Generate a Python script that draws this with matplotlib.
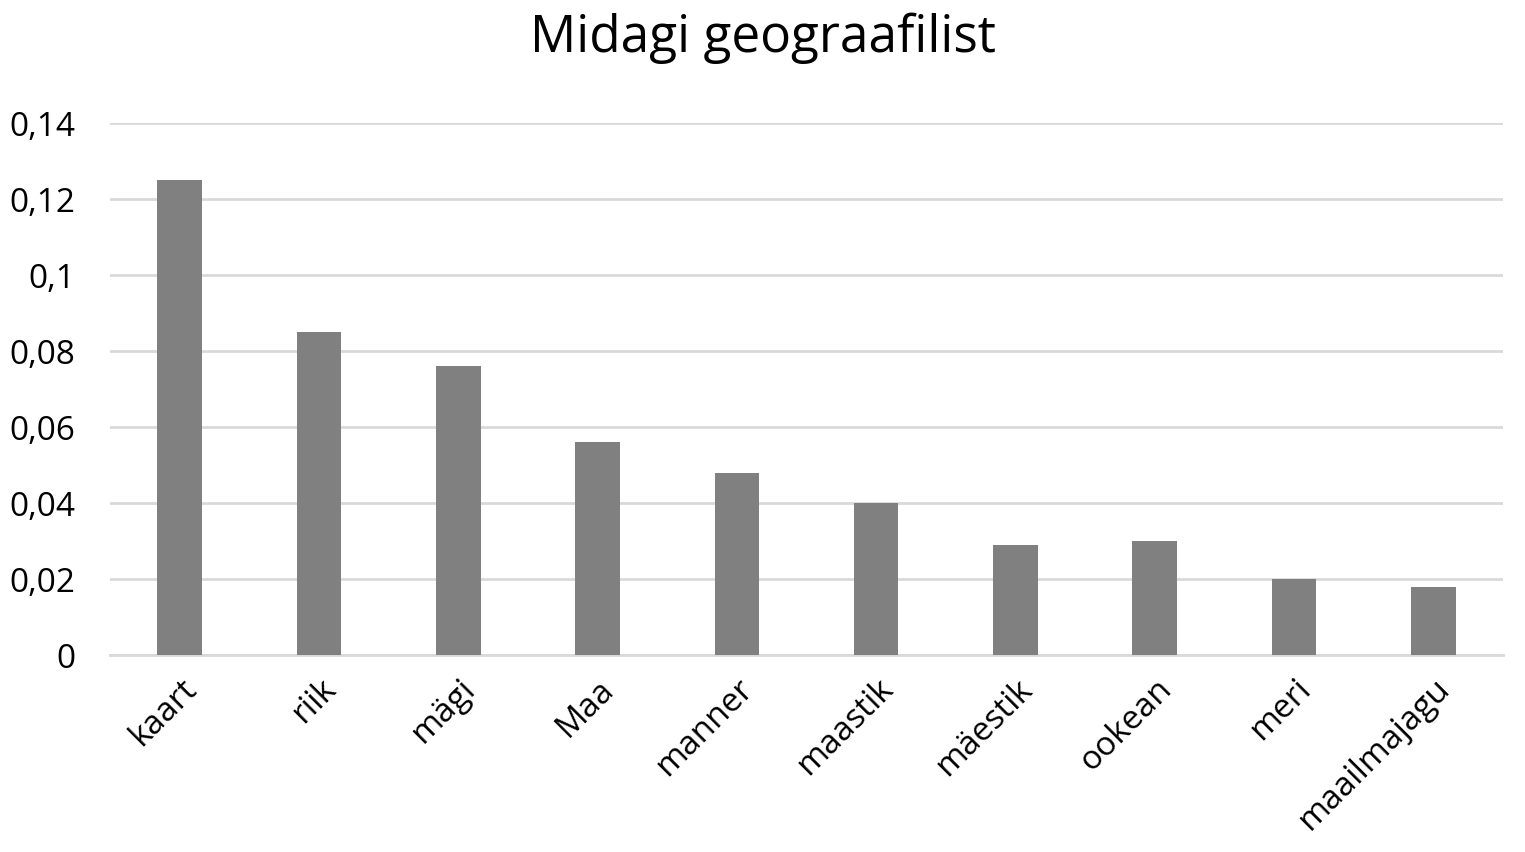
import numpy as np
import matplotlib
matplotlib.use("Agg")
from matplotlib import pyplot as plt

# data
categories = ['kaart', 'riik', 'mägi', 'Maa', 'manner', 'maastik',
              'mäestik', 'ookean', 'meri', 'maailmajagu']
values = [0.125, 0.085, 0.076, 0.056, 0.048, 0.040, 0.029, 0.030, 0.020, 0.018]
yticks = [0, 0.02, 0.04, 0.06, 0.08, 0.1, 0.12, 0.14]
ytick_labels = ['0', '0,02', '0,04', '0,06', '0,08', '0,1', '0,12', '0,14']

plt.rcParams['font.family'] = ['Open Sans', 'DejaVu Sans']

fig = plt.figure(figsize=(15.25, 8.53), dpi=100)
ax = fig.add_axes([110 / 1525, 1 - 656 / 853, 1393 / 1525, (656 - 124) / 853])

x = np.arange(len(categories))
ax.bar(x, values, width=0.32, color='#808080', zorder=3)

ax.set_xlim(-0.5, len(categories) - 0.5)
ax.set_ylim(0, 0.14)
ax.set_yticks(yticks)
ax.set_yticklabels(ytick_labels, fontsize=24)
ax.set_xticks(x)
ax.set_xticklabels(categories, rotation=45, ha='right', rotation_mode='anchor', fontsize=24)
ax.grid(axis='y', color='#d9d9d9', linewidth=2, zorder=0)
ax.tick_params(axis='y', length=0, pad=25)
ax.tick_params(axis='x', length=0, pad=12)
for s in ['top', 'right', 'left']:
    ax.spines[s].set_visible(False)
ax.spines['bottom'].set_color('#d9d9d9')
ax.spines['bottom'].set_linewidth(2)

fig.text(0.5, 1 - 38 / 853, 'Midagi geograafilist', ha='center', va='center', fontsize=37)

fig.savefig('out.png', dpi=100)
